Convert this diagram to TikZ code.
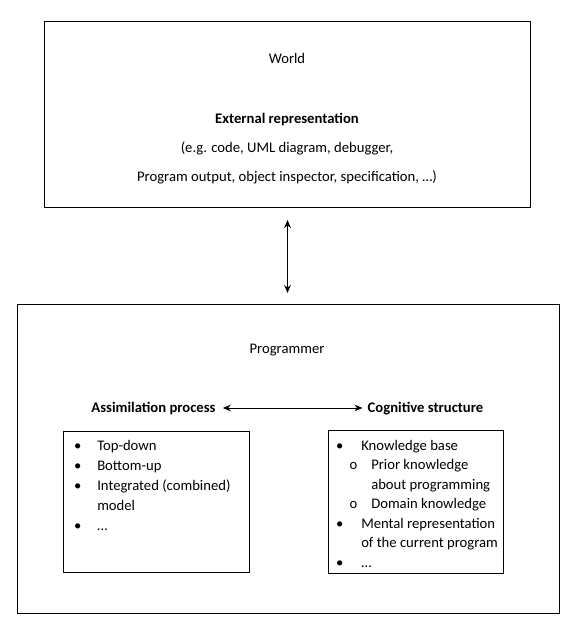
\documentclass[tikz,border=0pt]{standalone}
\usepackage{fontspec}
\setmainfont{Carlito}
\usetikzlibrary{arrows.meta}
\tikzset{
BOX/.style={draw=black,line width=0.75pt,inner sep=0pt},
TXT/.style={inner sep=0pt,anchor=base,font=\fontsize{11}{13}\selectfont},
ITEM/.style={TXT,anchor=base west},
<->/.style={draw=black,line width=0.7pt,{Stealth[length=6pt,width=5pt]}-{Stealth[length=6pt,width=5pt]}},
}
\newcommand{\bul}[1]{\llap{\textbullet\hspace{#1}}}
\begin{document}
\begin{tikzpicture}[x=0.75pt,y=-0.75pt]
	\useasboundingbox (0,0) rectangle (581,629);
	%Boxes
	\node[BOX,anchor=north west,minimum width=486*0.75pt,minimum height=186*0.75pt] (world) at (44,21) {};
	\node[BOX,anchor=north west,minimum width=542*0.75pt,minimum height=309*0.75pt] (prog) at (17,304) {};
	\node[BOX,anchor=north west,minimum width=186*0.75pt,minimum height=141*0.75pt] (assimbox) at (63,431) {};
	\node[BOX,anchor=north west,minimum width=175*0.75pt,minimum height=143*0.75pt] (cogbox) at (328,430) {};
	%World
	\node[TXT] (worldlabel) at (287,63) {World};
	\node[TXT,font=\fontsize{11}{13}\selectfont\bfseries] (ext) at (287,123) {External representation};
	\node[TXT] (eg1) at (287,152) {(e.g. code, UML diagram, debugger,};
	\node[TXT] (eg2) at (287,181) {Program output, object inspector, specification, \dots)};
	%Programmer
	\node[TXT] (proglabel) at (287,353) {Programmer};
	\node[TXT,font=\fontsize{11}{13}\selectfont\bfseries] (assim) at (153.5,412) {Assimilation process};
	\node[TXT,font=\fontsize{11}{13}\selectfont\bfseries] (cog) at (425.5,412) {Cognitive structure};
	\draw[<->,shorten <=12pt*0.75,shorten >=11pt*0.75] (world.south) -- (world.south |- prog.north);
	\draw[<->,shorten <=7pt*0.75,shorten >=5pt*0.75] (assim.east) -- (assim.east -| cog.west);
	%Lists
	\foreach \y/\t in {450/Top-down,470/Bottom-up,490/{Integrated (combined)},510/model,530/\dots}
		\node[ITEM] at (97,\y) {\t};
	\foreach \y in {450,470,490,530}
		\node[ITEM] at (97,\y) {\bul{12.4pt}};
	\foreach \y/\t in {450/{Knowledge base},528/{Mental representation},547/{of the current program},567/\dots}
		\node[ITEM] at (361,\y) {\t};
	\foreach \y in {450,528,567}
		\node[ITEM] at (361,\y) {\bul{13.9pt}};
	\foreach \y/\t in {469/{Prior knowledge},489/{about programming},508/{Domain knowledge}}
		\node[ITEM] at (371,\y) {\t};
	\foreach \y in {469,508}
		\node[ITEM] at (371,\y) {\llap{o\hspace{11pt}}};
\end{tikzpicture}
\end{document}
